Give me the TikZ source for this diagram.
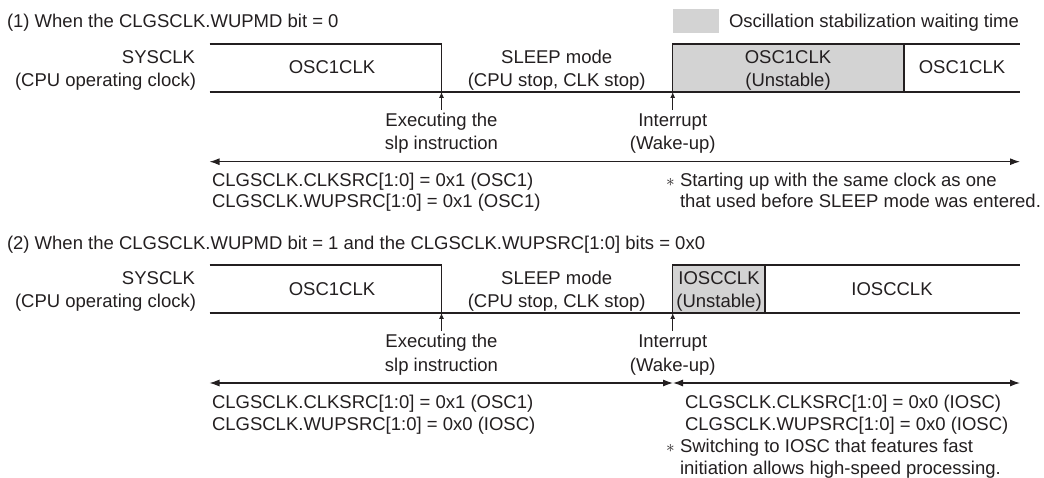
\documentclass[tikz,border=0pt]{standalone}
\usepackage{fontspec}
\setmainfont{Liberation Sans}
\usetikzlibrary{arrows.meta}
\definecolor{ink}{RGB}{35,31,32}
\definecolor{unst}{RGB}{211,211,211}
\begin{document}
\begin{tikzpicture}[x=1pt,y=-1pt,
  every node/.style={inner sep=0pt, outer sep=0pt, text=ink, font=\fontsize{18.5}{22}\selectfont},
  wave/.style={draw=ink, line width=1.2pt},
  uns/.style={wave, fill=unst},
  evarrow/.style={draw=ink, line width=0.9pt, -{Latex[length=6pt,width=5pt]}},
  span/.style={draw=ink, line width=1.1pt},
  bw/.style={anchor=base west},
  be/.style={anchor=base east},
  bc/.style={anchor=base},
  star/.style={anchor=base west, font=\fontsize{16}{16}\selectfont},
  ]
\useasboundingbox (0,0) rectangle (1044,478);
\tikzset{tip/.tip={Latex[length=10pt,width=7pt]}}

% ---------------- legend
\node[fill=unst, minimum width=46.3pt, minimum height=23.4pt, anchor=north west] (leg) at (672.7,9.3) {};
\node[bw] (legt) at (729,28) {Oscillation stabilization waiting time};

% ================= section 1
\node[bw] (t1) at (7,27.5) {(1) When the CLGSCLK.WUPMD bit = 0};
\node[be] (sys1a) at (195,63.5) {SYSCLK};
\node[be] (sys1b) at (196,87) {(CPU operating clock)};

\draw[wave] (209.5,44) -- (441.5,44) -- (441.5,92);
\draw[wave] (209.5,92) -- (1020,92);
\draw[uns] (672.7,44) rectangle (904,92);
\draw[wave] (904,44) -- (1020,44);

\node[bc] (o1) at (332,74) {OSC1CLK};
\node[bc] (sl1a) at (556.7,63.5) {SLEEP mode};
\node[bc] (sl1b) at (556.7,87) {(CPU stop, CLK stop)};
\node[bc] (u1a) at (788,63.5) {OSC1CLK};
\node[bc] (u1b) at (788,87) {(Unstable)};
\node[bc] (o1r) at (962,74) {OSC1CLK};

\coordinate (e1) at (441.5,92);
\coordinate (e1s) at (441.5,110);
\draw[evarrow] (e1s) -- (e1);
\node[bc] (ex1a) at (441.5,126.5) {Executing the};
\node[bc] (ex1b) at (441.5,150) {slp instruction};

\coordinate (i1) at (672.7,92);
\coordinate (i1s) at (672.7,110);
\draw[evarrow] (i1s) -- (i1);
\node[bc] (in1a) at (672.7,126.5) {Interrupt};
\node[bc] (in1b) at (672.7,150) {(Wake-up)};

\coordinate (L1) at (209.5,161.7);
\coordinate (R1) at (1020,161.7);
\draw[span, tip-tip] (L1) -- (R1);

\node[bw] (c1a) at (212,186.5) {CLGSCLK.CLKSRC[1:0] = 0x1 (OSC1)};
\node[bw] (c1b) at (212,207.5) {CLGSCLK.WUPSRC[1:0] = 0x1 (OSC1)};
\node[star] (s1) at (666,186.5) {$\ast$};
\node[bw] (n1a) at (680,186.5) {Starting up with the same clock as one};
\node[bw] (n1b) at (680,207.5) {that used before SLEEP mode was entered.};

% ================= section 2
\node[bw] (t2) at (7,250) {(2) When the CLGSCLK.WUPMD bit = 1 and the CLGSCLK.WUPSRC[1:0] bits = 0x0};
\node[be] (sys2a) at (195,284.5) {SYSCLK};
\node[be] (sys2b) at (196,308) {(CPU operating clock)};

\draw[wave] (209.5,265) -- (441.5,265) -- (441.5,313);
\draw[wave] (209.5,313) -- (1020,313);
\draw[uns] (672.7,265) rectangle (765,313);
\draw[wave] (765,265) -- (1020,265);

\node[bc] (o2) at (332,295) {OSC1CLK};
\node[bc] (sl2a) at (556.7,284.5) {SLEEP mode};
\node[bc] (sl2b) at (556.7,308) {(CPU stop, CLK stop)};
\node[bc] (u2a) at (719,284.5) {IOSCCLK};
\node[bc] (u2b) at (719,308) {(Unstable)};
\node[bc] (o2r) at (892,295) {IOSCCLK};

\coordinate (e2) at (441.5,313);
\coordinate (e2s) at (441.5,331);
\draw[evarrow] (e2s) -- (e2);
\node[bc] (ex2a) at (441.5,347.5) {Executing the};
\node[bc] (ex2b) at (441.5,371) {slp instruction};

\coordinate (i2) at (672.7,313);
\coordinate (i2s) at (672.7,331);
\draw[evarrow] (i2s) -- (i2);
\node[bc] (in2a) at (672.7,347.5) {Interrupt};
\node[bc] (in2b) at (672.7,371) {(Wake-up)};

\coordinate (L2) at (209.5,383);
\coordinate (M2) at (673,383);
\coordinate (R2) at (1020,383);
\draw[span, tip-tip] (L2) -- (M2);
\draw[span, tip-tip] (M2) -- (R2);

\node[bw] (c2a) at (212,408) {CLGSCLK.CLKSRC[1:0] = 0x1 (OSC1)};
\node[bw] (c2b) at (212,430) {CLGSCLK.WUPSRC[1:0] = 0x0 (IOSC)};
\node[bw] (d2a) at (685,408) {CLGSCLK.CLKSRC[1:0] = 0x0 (IOSC)};
\node[bw] (d2b) at (685,430) {CLGSCLK.WUPSRC[1:0] = 0x0 (IOSC)};
\node[star] (s2) at (666,452) {$\ast$};
\node[bw] (n2a) at (680,452) {Switching to IOSC that features fast};
\node[bw] (n2b) at (680,474) {initiation allows high-speed processing.};
\end{tikzpicture}
\end{document}
